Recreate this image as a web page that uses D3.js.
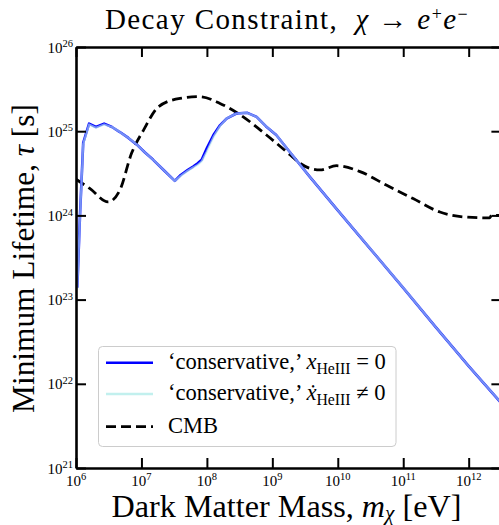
<!DOCTYPE html>
<html><head><meta charset="utf-8">
<script src="https://cdn.jsdelivr.net/npm/d3@7/dist/d3.min.js"></script>
<style>body{margin:0;background:#fff}svg{display:block}</style>
</head><body>
<svg id="c" width="499" height="525"></svg>
<script>
// ---- data (log10 of mass [eV] and log10 of lifetime [s]) ----
const consMassExp = [6.02,6.06,6.11,6.20,6.305,6.43,6.55,6.67,6.80,6.93,7.05,7.18,7.35,7.51,7.60,7.71,7.79,7.86,7.92,8.00,8.10,8.20,8.30,8.45,8.61,8.76,8.90,9.06,9.27,9.57,10.0,10.5,11.0,11.5,12.0,12.5];
const consTauExp  = [23.14,23.98,24.86,25.09,25.05,25.09,25.05,24.99,24.92,24.84,24.75,24.66,24.53,24.41,24.48,24.54,24.58,24.62,24.66,24.80,24.955,25.07,25.15,25.21,25.22,25.17,25.06,24.955,24.75,24.46,24.06,23.60,23.14,22.67,22.21,21.77];
const heMassExp = [6.02,6.06,6.11,6.20,6.305,6.43,6.55,6.67,6.80,6.93,7.05,7.18,7.35,7.51,7.60,7.71,7.79,7.86,7.92,8.00,8.10,8.20,8.30,8.45,8.61,8.76,8.90,9.06,9.27,9.57,10.0,10.5,11.0,11.5,12.0,12.5];
const heTauExp  = [23.12,23.96,24.85,25.08,25.04,25.08,25.05,24.99,24.92,24.84,24.75,24.66,24.53,24.41,24.47,24.53,24.57,24.60,24.64,24.76,24.93,25.06,25.15,25.21,25.22,25.17,25.06,24.955,24.75,24.46,24.06,23.60,23.14,22.67,22.21,21.77];
const cmbMassExp = [6.0,6.21,6.49,6.67,6.85,7.03,7.26,7.59,7.89,8.20,8.48,8.91,9.27,9.42,9.57,9.73,9.98,10.34,10.74,11.15,11.56,11.96,12.32,12.35,12.5];
const cmbTauExp  = [24.43,24.32,24.16,24.30,24.74,25.01,25.29,25.39,25.41,25.33,25.21,24.955,24.72,24.62,24.56,24.54,24.59,24.52,24.36,24.20,24.04,23.98,23.97,24.00,24.00];
const xTickExp = [6,7,8,9,10,11,12];
const yTickExp = [21,22,23,24,25,26];

const svg = d3.select("#c");
const FONT = "'Liberation Serif','DejaVu Serif',serif";
const P = {left:76, top:47, right:501.4, bottom:468};
const x = d3.scaleLog().domain([1e6, Math.pow(10,12.5)]).range([P.left, P.right]);
const y = d3.scaleLog().domain([1e21, 1e26]).range([P.bottom, P.top]);

svg.append("rect").attr("width",499).attr("height",525).attr("fill","#fff");

function addRich(text, parts, opt){
  opt = Object.assign({sup:-0.36, sub:0.22, scale:0.7}, opt||{});
  let shift = 0;
  parts.forEach(p=>{
    const ts = text.append("tspan").text(p.t);
    const small = p.sup || p.sub;
    const target = p.sup ? opt.sup : (p.sub ? opt.sub : 0);
    if (small) ts.attr("font-size", (opt.scale*100) + "%");
    const delta = target - shift;
    if (Math.abs(delta) > 1e-9) ts.attr("dy", (small ? delta/opt.scale : delta) + "em");
    shift = target;
    if (p.it) ts.attr("font-style","italic");
  });
}
function fit(text, base, target){
  text.attr("font-size", base);
  const w = text.node().getBBox().width;
  text.attr("font-size", base*target/w);
}

svg.append("clipPath").attr("id","clip").append("rect")
  .attr("x",P.left).attr("y",P.top).attr("width",P.right-P.left).attr("height",P.bottom-P.top);

const line = d3.line().x(d=>x(d[0])).y(d=>y(d[1]));
const lineSmooth = d3.line().x(d=>x(d[0])).y(d=>y(d[1])).curve(d3.curveMonotoneX);
const toPts = (mx, ty) => mx.map((m,i)=>[Math.pow(10,m), Math.pow(10,ty[i])]);

const g = svg.append("g").attr("clip-path","url(#clip)");
g.append("path").datum(toPts(cmbMassExp,cmbTauExp)).attr("d",lineSmooth)
  .attr("fill","none").attr("stroke","#000").attr("stroke-width",2.8).attr("stroke-dasharray","10,5");
g.append("path").datum(toPts(consMassExp,consTauExp)).attr("d",line)
  .attr("fill","none").attr("stroke","#0000ff").attr("stroke-width",2.6).attr("stroke-linejoin","round");
g.append("path").datum(toPts(heMassExp,heTauExp)).attr("d",line)
  .attr("fill","none").attr("stroke","#c2f0ee").attr("stroke-width",2.2).attr("stroke-opacity",0.6).attr("stroke-linejoin","round");

const xT = xTickExp.map(e=>Math.pow(10,e));
const yT = yTickExp.map(e=>Math.pow(10,e));
function styleAxis(a){
  a.selectAll("path.domain").attr("stroke","#000").attr("stroke-width",2.6);
  a.selectAll(".tick line").attr("stroke","#000").attr("stroke-width",2);
  a.selectAll(".tick text").remove();
}
styleAxis(svg.append("g").attr("transform",`translate(0,${P.bottom})`).call(d3.axisBottom(x).tickValues(xT).tickSize(-10).tickSizeOuter(0).tickFormat("")));
styleAxis(svg.append("g").attr("transform",`translate(0,${P.top})`).call(d3.axisTop(x).tickValues(xT).tickSize(-10).tickSizeOuter(0).tickFormat("")));
styleAxis(svg.append("g").attr("transform",`translate(${P.left},0)`).call(d3.axisLeft(y).tickValues(yT).tickSize(-10).tickSizeOuter(0).tickFormat("")));
styleAxis(svg.append("g").attr("transform",`translate(${P.right},0)`).call(d3.axisRight(y).tickValues(yT).tickSize(-10).tickSizeOuter(0).tickFormat("")));

xTickExp.forEach(e=>{
  const t = svg.append("text").attr("x",x(Math.pow(10,e))).attr("y",485.8)
    .attr("text-anchor","middle").attr("font-family",FONT).attr("font-size",15).attr("fill","#000");
  addRich(t,[{t:"10"},{t:String(e),sup:true}]);
});
yTickExp.forEach(e=>{
  const t = svg.append("text").attr("x",P.left-3).attr("y",y(Math.pow(10,e))+5.5)
    .attr("text-anchor","end").attr("font-family",FONT).attr("font-size",15).attr("fill","#000");
  addRich(t,[{t:"10"},{t:String(e),sup:true}]);
});

// title: size limited so its font box stays inside the picture, widened by letter spacing
const title = svg.append("text").attr("x",287).attr("y",28.5).attr("text-anchor","middle")
  .attr("font-family",FONT).attr("font-size",29).attr("letter-spacing",1.4).attr("fill","#000");
addRich(title,[{t:"Decay Constraint,\u00a0\u00a0"},{t:"\u03c7",it:true},{t:" \u2192 "},{t:"e",it:true},{t:"+",sup:true},{t:"e",it:true},{t:"\u2212",sup:true}],{sup:-0.3, scale:0.62});

const xl = svg.append("text").attr("x",286.5).attr("y",516.6).attr("text-anchor","middle")
  .attr("font-family",FONT).attr("fill","#000");
addRich(xl,[{t:"Dark Matter Mass, "},{t:"m",it:true},{t:"\u03c7",it:true,sub:true},{t:" [eV]"}],{sub:0.1, scale:0.66});
fit(xl,26,350);

const yl = svg.append("text").attr("transform","translate(33.5,258.5) rotate(-90)").attr("text-anchor","middle")
  .attr("font-family",FONT).attr("fill","#000");
addRich(yl,[{t:"Minimum Lifetime, "},{t:"\u03c4",it:true},{t:" [s]"}]);
fit(yl,26,309);

const lg = svg.append("g");
lg.append("rect").attr("x",98.5).attr("y",346.5).attr("width",297.5).attr("height",100).attr("rx",4)
  .attr("fill","#fff").attr("fill-opacity",0.8).attr("stroke","#cccccc").attr("stroke-width",1);
const rows = [362.7, 394, 426.7];
lg.append("line").attr("x1",106).attr("x2",153).attr("y1",rows[0]).attr("y2",rows[0]).attr("stroke","#0000ff").attr("stroke-width",2.6);
lg.append("line").attr("x1",106).attr("x2",153).attr("y1",rows[1]).attr("y2",rows[1]).attr("stroke","#c2f0ee").attr("stroke-width",2.6);
lg.append("line").attr("x1",106).attr("x2",153).attr("y1",rows[2]).attr("y2",rows[2]).attr("stroke","#000").attr("stroke-width",2.8).attr("stroke-dasharray","10,5");
const lt = [
  [{t:"\u2018conservative,\u2019 "},{t:"x",it:true},{t:"HeIII",sub:true},{t:" = 0"}],
  [{t:"\u2018conservative,\u2019 "},{t:"\u1e8b",it:true},{t:"HeIII",sub:true},{t:" \u2260 0"}],
  [{t:"CMB"}]
];
const texts = lt.map((parts,i)=>{
  const t = lg.append("text").attr("x",168).attr("y",rows[i]+6).attr("font-family",FONT).attr("fill","#000");
  addRich(t,parts); return t;
});
fit(texts[0],19,218);
const fs = +texts[0].attr("font-size");
texts[1].attr("font-size",fs); texts[2].attr("font-size",fs);
</script>
</body></html>
